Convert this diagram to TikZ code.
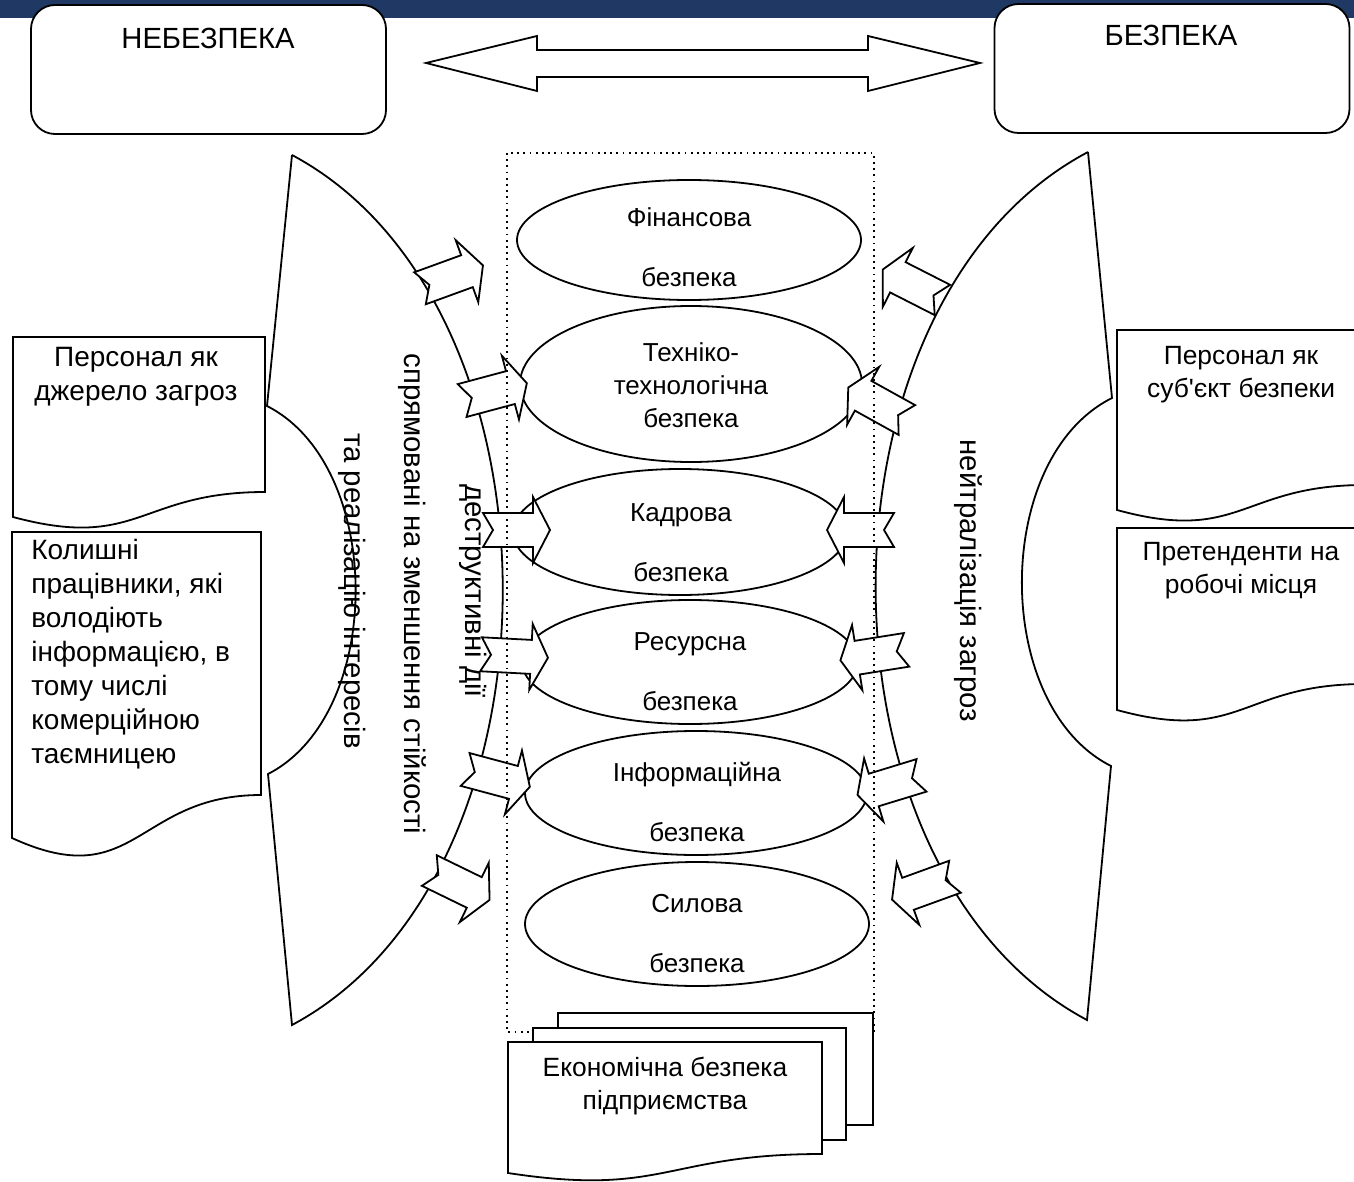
\documentclass[tikz,border=0pt]{standalone}
\usepackage{fontspec}
\setmainfont{Liberation Sans}
\usetikzlibrary{shapes.geometric}
\definecolor{bandblue}{RGB}{31,56,100}

\begin{document}
\begin{tikzpicture}[x=0.5pt,y=-0.5pt]
\tikzstyle{every node}+=[inner sep=0pt, font=\fontsize{13}{16.5}\selectfont]
\tikzstyle{outline}=[black, line width=0.9pt]
\tikzstyle{topbox}=[outline, draw, fill=white, rounded corners=12pt, minimum width=177.5pt, minimum height=64.5pt]
\tikzstyle{secbox}=[outline, draw, fill=white, ellipse]
\tikzstyle{sectext}=[align=center]
\tikzstyle{blockarrow}=[outline, fill=white, line join=miter]
\tikzstyle{doc}=[outline, fill=white]
\tikzstyle{lefttext}=[font=\fontsize{14}{17}\selectfont]
\tikzstyle{righttext}=[align=center, font=\fontsize{13.2}{16.5}\selectfont]
\tikzstyle{sidetext}=[rotate=-90, font=\fontsize{14.7}{17}\selectfont]
\useasboundingbox (0,0) rectangle (1354,1182);
\fill [bandblue] (0,0) rectangle (1354,18);
\node [topbox] (danger) at (208.5,69.5) {};
\node [topbox] (safety) at (1172,68.5) {};
\node [font=\fontsize{14.6}{17}\selectfont] (dangertxt) at (208,38) {НЕБЕЗПЕКА};
\node [font=\fontsize{14.6}{17}\selectfont] (safetytxt) at (1171,35) {БЕЗПЕКА};
\draw [blockarrow] (426,63) -- (537,36) -- (537,50) -- (868,50) -- (868,36) -- (980,63) -- (868,91) -- (868,77) -- (537,77) -- (537,91) -- cycle;
\draw [outline] (292,155) -- (267,406) .. controls (385,466) and (385,714) .. (268,774) -- (292,1025) .. controls (573,875) and (573,305) .. (292,155);
\draw [outline] (1088,152) -- (1112,398) .. controls (992,458) and (992,706) .. (1111,766) -- (1087,1020) .. controls (805,870) and (805,302) .. (1088,152);
\node [secbox, minimum width=172pt, minimum height=60pt] (fin) at (689,240) {};
\node [secbox, minimum width=171pt, minimum height=78pt] (tech) at (691,384) {};
\node [secbox, minimum width=167pt, minimum height=63pt] (staff) at (680,532) {};
\node [secbox, minimum width=168pt, minimum height=62pt] (res) at (690,662) {};
\node [secbox, minimum width=171pt, minimum height=62pt] (info) at (696,793) {};
\node [secbox, minimum width=172pt, minimum height=62pt] (force) at (697,924) {};
\node [sectext] (fintxt) at (689,247) {Фінансова\\[13.5pt]безпека};
\node [sectext] (techtxt) at (691,385) {Техніко-\\технологічна\\безпека};
\node [sectext] (stafftxt) at (681,543) {Кадрова\\[13.5pt]безпека};
\node [sectext] (restxt) at (690,672) {Ресурсна\\[13.5pt]безпека};
\node [sectext] (infotxt) at (697,802) {Інформаційна\\[13.5pt]безпека};
\node [sectext] (forcetxt) at (697,934) {Силова\\[13.5pt]безпека};
\draw [blockarrow, shift={(451,277)}, rotate=20] (-33,-17) -- (17,-17) -- (17,-33) -- (34,0) -- (17,33) -- (17,17) -- (-33,17) -- (-23,0) -- cycle;
\draw [blockarrow, shift={(494,392)}, rotate=15] (-33,-17) -- (17,-17) -- (17,-33) -- (34,0) -- (17,33) -- (17,17) -- (-33,17) -- (-23,0) -- cycle;
\draw [blockarrow, shift={(516,530)}, rotate=0] (-33,-17) -- (17,-17) -- (17,-33) -- (34,0) -- (17,33) -- (17,17) -- (-33,17) -- (-23,0) -- cycle;
\draw [blockarrow, shift={(514,656)}, rotate=-3] (-33,-17) -- (17,-17) -- (17,-33) -- (34,0) -- (17,33) -- (17,17) -- (-33,17) -- (-23,0) -- cycle;
\draw [blockarrow, shift={(497,778)}, rotate=-15] (-33,-17) -- (17,-17) -- (17,-33) -- (34,0) -- (17,33) -- (17,17) -- (-33,17) -- (-23,0) -- cycle;
\draw [blockarrow, shift={(459,885)}, rotate=-26] (-33,-17) -- (17,-17) -- (17,-33) -- (34,0) -- (17,33) -- (17,17) -- (-33,17) -- (-23,0) -- cycle;
\draw [blockarrow, shift={(913,285)}, rotate=153] (-33,-17) -- (17,-17) -- (17,-33) -- (34,0) -- (17,33) -- (17,17) -- (-33,17) -- (-23,0) -- cycle;
\draw [blockarrow, shift={(878,404)}, rotate=151] (-33,-17) -- (17,-17) -- (17,-33) -- (34,0) -- (17,33) -- (17,17) -- (-33,17) -- (-23,0) -- cycle;
\draw [blockarrow, shift={(861,530)}, rotate=180] (-33,-17) -- (17,-17) -- (17,-33) -- (34,0) -- (17,33) -- (17,17) -- (-33,17) -- (-23,0) -- cycle;
\draw [blockarrow, shift={(874,655)}, rotate=189] (-33,-17) -- (17,-17) -- (17,-33) -- (34,0) -- (17,33) -- (17,17) -- (-33,17) -- (-23,0) -- cycle;
\draw [blockarrow, shift={(890,785)}, rotate=197] (-33,-17) -- (17,-17) -- (17,-33) -- (34,0) -- (17,33) -- (17,17) -- (-33,17) -- (-23,0) -- cycle;
\draw [blockarrow, shift={(924,888)}, rotate=200] (-33,-17) -- (17,-17) -- (17,-33) -- (34,0) -- (17,33) -- (17,17) -- (-33,17) -- (-23,0) -- cycle;
\draw [black, line width=0.9pt, dash pattern=on 0.9pt off 2.2pt] (507,153) rectangle (874,1032);
\draw [doc] (558,1013) rectangle (873,1125);
\draw [doc] (533,1028) rectangle (846,1140);
\draw [doc] (508,1042) -- (822,1042) -- (822,1154) .. controls (665,1154) and (665,1197) .. (508,1173) -- cycle;
\node [righttext] (firm) at (665,1086) {Економічна безпека\\підприємства};
\draw [doc] (13,337) -- (265,337) -- (265,492) .. controls (139,492) and (139,551) .. (13,517) -- cycle;
\draw [doc] (12,532) -- (261,532) -- (261,795) .. controls (136,795) and (136,895) .. (12,838) -- cycle;
\draw [doc] (1117,330) -- (1365,330) -- (1365,485) .. controls (1241,485) and (1241,544) .. (1117,510) -- cycle;
\draw [doc] (1117,528) -- (1365,528) -- (1365,684) .. controls (1241,684) and (1241,744) .. (1117,710) -- cycle;
\node [lefttext, align=center] (staffsrc) at (136,377) {Персонал як\\джерело загроз};
\node [lefttext, align=left, anchor=west] (former) at (31,654) {Колишні\\працівники, які\\володіють\\інформацією, в\\тому числі\\комерційною\\таємницею};
\node [righttext] (staffsubj) at (1241,375) {Персонал як\\суб\textquotesingle єкт безпеки};
\node [righttext] (applicants) at (1241,571) {Претенденти на\\робочі місця};
\node [sidetext] (reduce) at (412,594) {спрямовані на зменшення стійкості};
\node [sidetext] (interest) at (352,591) {та реалізацію інтересів};
\node [sidetext] (destruct) at (473,591) {деструктивні дії};
\node [sidetext] (neutral) at (968,581) {нейтралізація загроз};
\end{tikzpicture}
\end{document}
